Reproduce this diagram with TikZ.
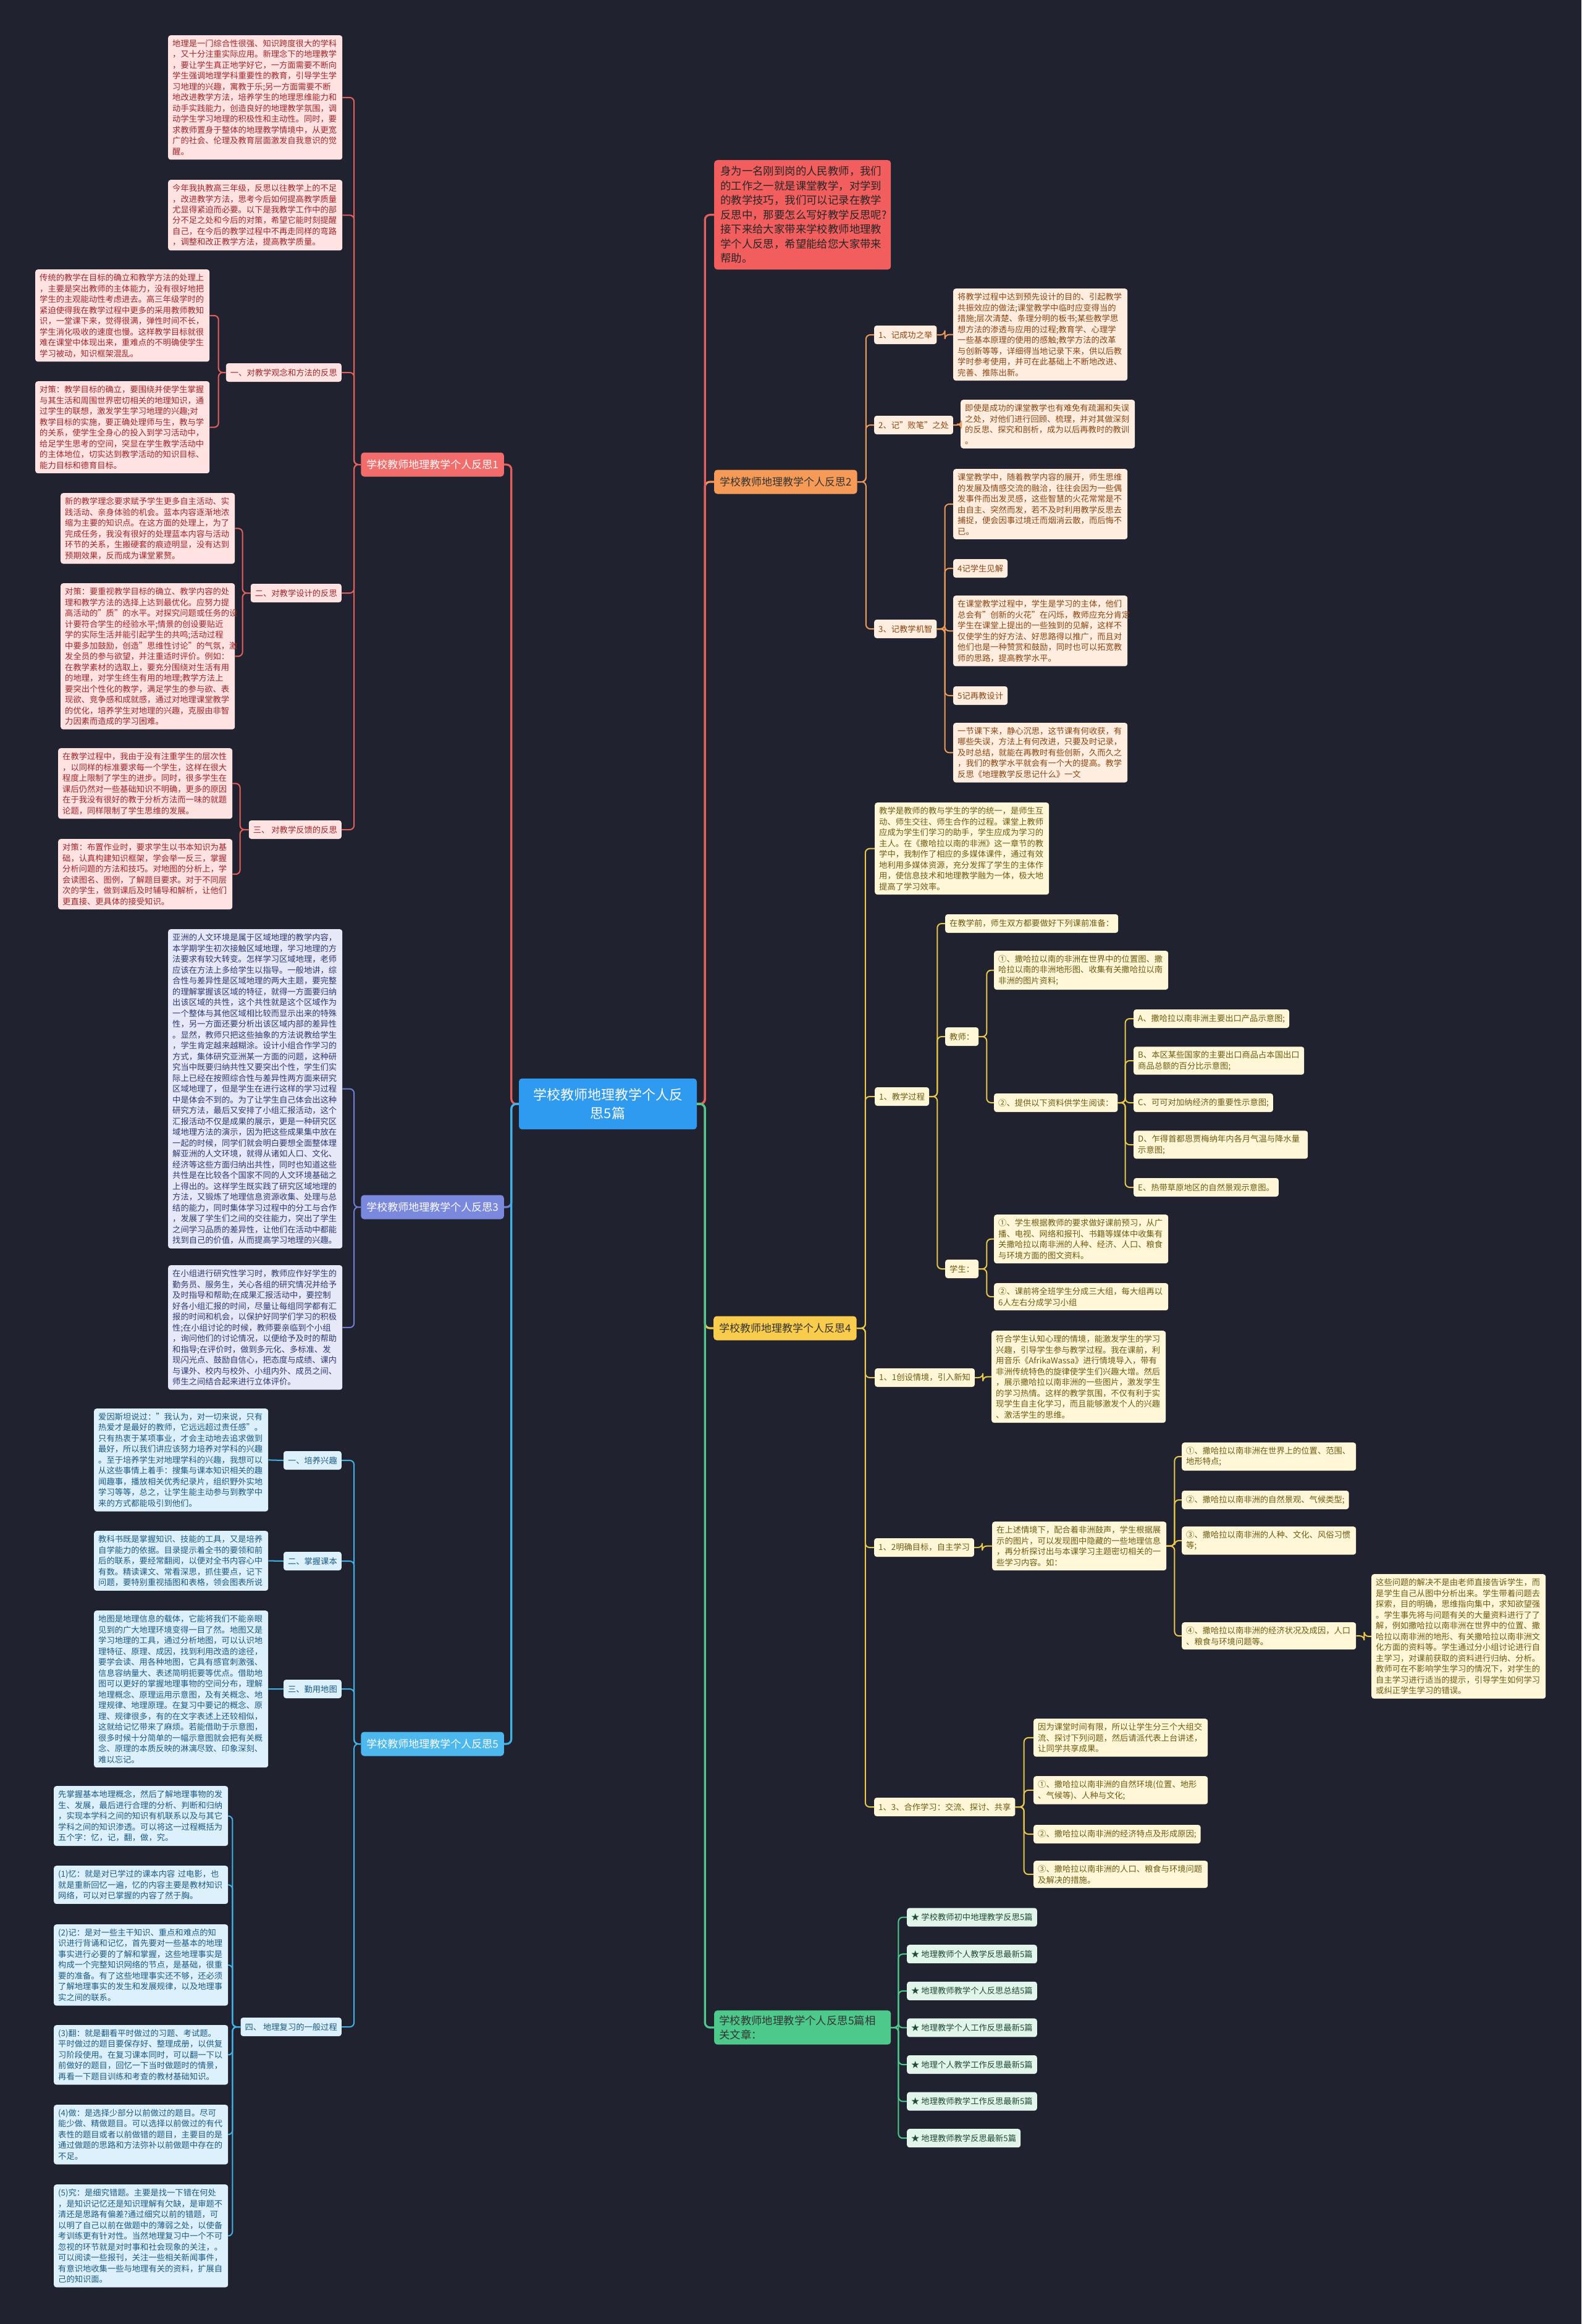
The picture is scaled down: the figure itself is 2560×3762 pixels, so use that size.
\documentclass[tikz,border=0pt]{standalone}
\usepackage{fontspec}
\setmainfont{Noto Sans CJK SC}
\definecolor{bgcol}{HTML}{20232F}
\definecolor{rootfill}{HTML}{2E9AF0}
\definecolor{redln}{HTML}{E5605D}
\definecolor{redfill}{HTML}{F36C6C}
\definecolor{introfill}{HTML}{F25E5E}
\definecolor{redlt}{HTML}{FFE2E2}
\definecolor{reddk}{HTML}{A3262A}
\definecolor{orln}{HTML}{F09A5A}
\definecolor{orfill}{HTML}{F59A57}
\definecolor{orlt}{HTML}{FFEEDF}
\definecolor{ordk}{HTML}{8B4513}
\definecolor{yeln}{HTML}{E9C84B}
\definecolor{yefill}{HTML}{F9CC4C}
\definecolor{yelt}{HTML}{FFF7D7}
\definecolor{yedk}{HTML}{6E5B12}
\definecolor{puln}{HTML}{6F7FD6}
\definecolor{pufill}{HTML}{7A89DE}
\definecolor{pult}{HTML}{E7E9F8}
\definecolor{pudk}{HTML}{2E3A73}
\definecolor{blln}{HTML}{3FB2E8}
\definecolor{blfill}{HTML}{4DB8EE}
\definecolor{bllt}{HTML}{DCF1FB}
\definecolor{bldk}{HTML}{1D5A86}
\definecolor{grln}{HTML}{4DC98B}
\definecolor{grlt}{HTML}{E2F5EB}
\definecolor{grdk}{HTML}{1F4A33}
\tikzset{
  box/.style = {rounded corners = 4pt, inner xsep = 7pt, inner ysep = 7pt, align = left,
    font = \fontsize{13.3}{17.5}\selectfont},
  wide/.style = {text width = 268pt},
  tag/.style = {box, inner ysep = 4pt, minimum height = 30pt},
  redbox/.style = {box, fill = redlt, text = reddk},
  orbox/.style = {box, fill = orlt, text = ordk},
  yebox/.style = {box, fill = yelt, text = yedk},
  pubox/.style = {box, fill = pult, text = pudk},
  blbox/.style = {box, fill = bllt, text = bldk},
  grbox/.style = {box, fill = grlt, text = grdk},
  branch/.style = {rounded corners = 5pt, inner xsep = 9pt, minimum height = 39pt,
    font = \fontsize{17}{21}\selectfont},
  link/.style = {rounded corners = 7pt, line width = 2pt},
  trunk/.style = {rounded corners = 8pt, line width = 3.2pt}
}
\begin{document}
\begin{tikzpicture}[x=1pt, y=-1pt]
\fill[bgcol] (0,0) rectangle (2560,3762);
\useasboundingbox (0,0) rectangle (2560,3762);

% root
\node[fill=rootfill, text=white, rounded corners=5pt, inner xsep=14pt, inner ysep=16pt,
  text width=260pt, align=center, font=\fontsize{22}{30}\selectfont] (root) at (984,1787)
  {学校教师地理教学个人反\\思5篇};

% ---------------- left: 反思1 ----------------
\node[branch, fill=redfill, text=white, anchor=east] (fs1) at (816,752) {学校教师地理教学个人反思1};
\node[redbox, wide, anchor=north west] (r1a) at (272,57) {地理是一门综合性很强、知识跨度很大的学科\\，又十分注重实际应用。新理念下的地理教学\\，要让学生真正地学好它，一方面需要不断向\\学生强调地理学科重要性的教育，引导学生学\\习地理的兴趣，寓教于乐;另一方面需要不断\\地改进教学方法，培养学生的地理思维能力和\\动手实践能力，创造良好的地理教学氛围，调\\动学生学习地理的积极性和主动性。同时，要\\求教师置身于整体的地理教学情境中，从更宽\\广的社会、伦理及教育层面激发自我意识的觉\\醒。};
\node[redbox, wide, anchor=north west] (r1b) at (272,291) {今年我执教高三年级，反思以往教学上的不足\\，改进教学方法，思考今后如何提高教学质量\\尤显得紧迫而必要。以下是我教学工作中的部\\分不足之处和今后的对策，希望它能时刻提醒\\自己，在今后的教学过程中不再走同样的弯路\\，调整和改正教学方法，提高教学质量。};
\node[redbox, tag, anchor=east] (s11) at (553,603) {一、对教学观念和方法的反思};
\node[redbox, wide, anchor=north west] (r1c) at (57,436) {传统的教学在目标的确立和教学方法的处理上\\，主要是突出教师的主体能力，没有很好地把\\学生的主观能动性考虑进去。高三年级学时的\\紧迫使得我在教学过程中更多的采用教师教知\\识，一堂课下来，觉得很满，弹性时间不长，\\学生消化吸收的速度也慢。这样教学目标就很\\难在课堂中体现出来，重难点的不明确使学生\\学习被动，知识框架混乱。};
\node[redbox, wide, anchor=north west] (r1d) at (57,617) {对策：教学目标的确立，要围绕并使学生掌握\\与其生活和周围世界密切相关的地理知识，通\\过学生的联想，激发学生学习地理的兴趣;对\\教学目标的实施，要正确处理师与生，教与学\\的关系，使学生全身心的投入到学习活动中，\\给足学生思考的空间，突显在学生教学活动中\\的主体地位，切实达到教学活动的知识目标、\\能力目标和德育目标。};
\node[redbox, tag, anchor=east] (s12) at (553,960) {二、对教学设计的反思};
\node[redbox, wide, anchor=north west] (r2a) at (98,798) {新的教学理念要求赋予学生更多自主活动、实\\践活动、亲身体验的机会。蓝本内容逐渐地浓\\缩为主要的知识点。在这方面的处理上，为了\\完成任务，我没有很好的处理蓝本内容与活动\\环节的关系，生搬硬套的痕迹明显，没有达到\\预期效果，反而成为课堂累赘。};
\node[redbox, wide, anchor=north west] (r2b) at (98,944) {对策：要重视教学目标的确立、教学内容的处\\理和教学方法的选择上达到最优化。应努力提\\高活动的"质"的水平。对探究问题或任务的设\\计要符合学生的经验水平;情景的创设要贴近\\学的实际生活并能引起学生的共鸣;活动过程\\中要多加鼓励，创造"思维性讨论"的气氛，激\\发全员的参与欲望，并注重适时评价。例如：\\在教学素材的选取上，要充分围绕对生活有用\\的地理，对学生终生有用的地理;教学方法上\\要突出个性化的教学，满足学生的参与欲、表\\现欲、竞争感和成就感，通过对地理课堂教学\\的优化，培养学生对地理的兴趣，克服由非智\\力因素而造成的学习困难。};
\node[redbox, tag, anchor=east] (s13) at (553,1343) {三、 对教学反馈的反思};
\node[redbox, wide, anchor=north west] (r3a) at (94,1211) {在教学过程中，我由于没有注重学生的层次性\\，以同样的标准要求每一个学生，这样在很大\\程度上限制了学生的进步。同时，很多学生在\\课后仍然对一些基础知识不明确，更多的原因\\在于我没有很好的教于分析方法而一味的就题\\论题，同样限制了学生思维的发展。};
\node[redbox, wide, anchor=north west] (r3b) at (94,1358) {对策：布置作业时，要求学生以书本知识为基\\础，认真构建知识框架，学会举一反三，掌握\\分析问题的方法和技巧。对地图的分析上，学\\会读图名、图例，了解题目要求。对于不同层\\次的学生，做到课后及时辅导和解析，让他们\\更直接、更具体的接受知识。};

\foreach \n in {r1a, r1b, s11, s12, s13}
  \draw[link, redln] (fs1.west) -- ++(-11,0) |- (\n.east);
\foreach \n in {r1c, r1d}
  \draw[link, redln] (s11.west) -- ++(-12,0) |- (\n.east);
\foreach \n in {r2a, r2b}
  \draw[link, redln] (s12.west) -- ++(-13,0) |- (\n.east);
\foreach \n in {r3a, r3b}
  \draw[link, redln] (s13.west) -- ++(-14,0) |- (\n.east);

% ---------------- left: 反思3 ----------------
\node[branch, fill=pufill, text=white, anchor=east] (fs3) at (816,1954) {学校教师地理教学个人反思3};
\node[pubox, wide, anchor=north west] (p1) at (272,1504) {亚洲的人文环境是属于区域地理的教学内容，\\本学期学生初次接触区域地理，学习地理的方\\法要求有较大转变。怎样学习区域地理，老师\\应该在方法上多给学生以指导。一般地讲，综\\合性与差异性是区域地理的两大主题，要完整\\的理解掌握该区域的特征，就得一方面要归纳\\出该区域的共性，这个共性就是这个区域作为\\一个整体与其他区域相比较而显示出来的特殊\\性，另一方面还要分析出该区域内部的差异性\\。显然，教师只把这些抽象的方法说教给学生\\，学生肯定越来越糊涂。设计小组合作学习的\\方式，集体研究亚洲某一方面的问题，这种研\\究当中既要归纳共性又要突出个性，学生们实\\际上已经在按照综合性与差异性两方面来研究\\区域地理了，但是学生在进行这样的学习过程\\中是体会不到的。为了让学生自己体会出这种\\研究方法，最后又安排了小组汇报活动，这个\\汇报活动不仅是成果的展示，更是一种研究区\\域地理方法的演示，因为把这些成果集中放在\\一起的时候，同学们就会明白要想全面整体理\\解亚洲的人文环境，就得从诸如人口、文化、\\经济等这些方面归纳出共性，同时也知道这些\\共性是在比较各个国家不同的人文环境基础之\\上得出的。这样学生既实践了研究区域地理的\\方法，又锻炼了地理信息资源收集、处理与总\\结的能力，同时集体学习过程中的分工与合作\\，发展了学生们之间的交往能力，突出了学生\\之间学习品质的差异性，让他们在活动中都能\\找到自己的价值，从而提高学习地理的兴趣。};
\node[pubox, wide, anchor=north west] (p2) at (272,2048) {在小组进行研究性学习时，教师应作好学生的\\勤务员、服务生，关心各组的研究情况并给予\\及时指导和帮助;在成果汇报活动中，要控制\\好各小组汇报的时间，尽量让每组同学都有汇\\报的时间和机会，以保护好同学们学习的积极\\性;在小组讨论的时候，教师要亲临到个小组\\，询问他们的讨论情况，以便给予及时的帮助\\和指导;在评价时，做到多元化、多标准、发\\现闪光点、鼓励自信心，把态度与成绩、课内\\与课外、校内与校外、小组内外、成员之间、\\师生之间结合起来进行立体评价。};
\foreach \n in {p1, p2}
  \draw[link, puln] (fs3.west) -- ++(-11,0) |- (\n.east);

% ---------------- left: 反思5 ----------------
\node[branch, fill=blfill, text=white, anchor=east] (fs5) at (816,2823) {学校教师地理教学个人反思5};
\node[blbox, tag, anchor=east] (s51) at (553,2364) {一、培养兴趣};
\node[blbox, wide, anchor=north west] (b1) at (152,2280) {爱因斯坦说过："我认为，对一切来说，只有\\热爱才是最好的教师，它远远超过责任感"。\\只有热衷于某项事业，才会主动地去追求做到\\最好，所以我们讲应该努力培养对学科的兴趣\\。至于培养学生对地理学科的兴趣，我想可以\\从这些事情上着手：搜集与课本知识相关的趣\\闻趣事，播放相关优秀纪录片，组织野外实地\\学习等等，总之，让学生能主动参与到教学中\\来的方式都能吸引到他们。};
\node[blbox, tag, anchor=east] (s52) at (553,2527) {二、掌握课本};
\node[blbox, wide, anchor=north west] (b2) at (152,2478) {教科书既是掌握知识、技能的工具，又是培养\\自学能力的依据。目录提示着全书的要领和前\\后的联系，要经常翻阅，以便对全书内容心中\\有数。精读课文、常看深思，抓住要点，记下\\问题，要特别重视插图和表格，领会图表所说};
\node[blbox, tag, anchor=east] (s53) at (553,2734) {三、勤用地图};
\node[blbox, wide, anchor=north west] (b3) at (152,2607) {地图是地理信息的载体，它能将我们不能亲眼\\见到的广大地理环境变得一目了然。地图又是\\学习地理的工具，通过分析地图，可以认识地\\理特征、原理、成因，找到利用改造的途径，\\要学会读、用各种地图，它具有感官刺激强、\\信息容纳量大、表述简明扼要等优点。借助地\\图可以更好的掌握地理事物的空间分布，理解\\地理概念、原理运用示意图，及有关概念、地\\理规律、地理原理。在复习中要记的概念、原\\理、规律很多，有的在文字表述上还较相似，\\这就给记忆带来了麻烦。若能借助于示意图，\\很多时候十分简单的一幅示意图就会把有关概\\念、原理的本质反映的淋漓尽致、印象深刻、\\难以忘记。};
\node[blbox, tag, anchor=east] (s54) at (553,3281) {四、 地理复习的一般过程};
\node[blbox, wide, anchor=north west] (q1) at (87,2891) {先掌握基本地理概念，然后了解地理事物的发\\生、发展，最后进行合理的分析、判断和归纳\\，实现本学科之间的知识有机联系以及与其它\\学科之间的知识渗透。可以将这一过程概括为\\五个字：忆，记，翻，做，究。};
\node[blbox, wide, anchor=north west] (q2) at (87,3020) {(1)忆：就是对已学过的课本内容 过电影，也\\就是重新回忆一遍，忆的内容主要是教材知识\\网络，可以对已掌握的内容了然于胸。};
\node[blbox, wide, anchor=north west] (q3) at (87,3115) {(2)记：是对一些主干知识、重点和难点的知\\识进行背诵和记忆，首先要对一些基本的地理\\事实进行必要的了解和掌握，这些地理事实是\\构成一个完整知识网络的节点，是基础，很重\\要的准备。有了这些地理事实还不够，还必须\\了解地理事实的发生和发展规律，以及地理事\\实之间的联系。};
\node[blbox, wide, anchor=north west] (q4) at (87,3278) {(3)翻：就是翻看平时做过的习题、考试题。\\平时做过的题目要保存好、整理成册，以供复\\习阶段使用。在复习课本同时，可以翻一下以\\前做好的题目，回忆一下当时做题时的情景，\\再看一下题目训练和考查的教材基础知识。};
\node[blbox, wide, anchor=north west] (q5) at (87,3407) {(4)做：是选择少部分以前做过的题目。尽可\\能少做、精做题目。可以选择以前做过的有代\\表性的题目或者以前做错的题目，主要目的是\\通过做题的思路和方法弥补以前做题中存在的\\不足。};
\node[blbox, wide, anchor=north west] (q6) at (87,3536) {(5)究：是细究错题。主要是找一下错在何处\\，是知识记忆还是知识理解有欠缺，是审题不\\清还是思路有偏差?通过细究以前的错题，可\\以明了自己以前在做题中的薄弱之处，以使备\\考训练更有针对性。当然地理复习中一个不可\\忽视的环节就是对时事和社会现象的关注，。\\可以阅读一些报刊，关注一些相关新闻事件，\\有意识地收集一些与地理有关的资料，扩展自\\己的知识面。};
\foreach \n in {s51, s52, s53, s54}
  \draw[link, blln] (fs5.west) -- ++(-11,0) |- (\n.east);
\draw[link, blln] (s51.west) -- (b1.east);
\draw[link, blln] (s52.west) -- (b2.east);
\draw[link, blln] (s53.west) -- (b3.east);
\foreach \n in {q1, q2, q3, q4, q5, q6}
  \draw[link, blln] (s54.west) -- ++(-13,0) |- (\n.east);

% root to left branches
\draw[trunk, redln] (root.west) -- ++(-12,0) |- (fs1.east);
\draw[trunk, puln] (root.west) -- ++(-12,0) |- (fs3.east);
\draw[trunk, blln] (root.west) -- ++(-12,0) |- (fs5.east);

% ---------------- right: intro + 反思2 ----------------
\node[fill=introfill, text=black!85, rounded corners=5pt, inner xsep=10pt, inner ysep=10pt,
  text width=266pt, align=left, font=\fontsize{17.4}{23.5}\selectfont, anchor=north west]
  (intro) at (1156,259) {身为一名刚到岗的人民教师，我们\\的工作之一就是课堂教学，对学到\\的教学技巧，我们可以记录在教学\\反思中，那要怎么写好教学反思呢?\\接下来给大家带来学校教师地理教\\学个人反思，希望能给您大家带来\\帮助。};
\node[branch, fill=orfill, text=black!80, anchor=west] (fs2) at (1156,780) {学校教师地理教学个人反思2};
\node[orbox, tag, anchor=west] (s21) at (1415,542) {1、记成功之举};
\node[orbox, wide, anchor=north west] (o1) at (1543,467) {将教学过程中达到预先设计的目的、引起教学\\共振效应的做法;课堂教学中临时应变得当的\\措施;层次清楚、条理分明的板书;某些教学思\\想方法的渗透与应用的过程;教育学、心理学\\一些基本原理的使用的感触;教学方法的改革\\与创新等等，详细得当地记录下来，供以后教\\学时参考使用，并可在此基础上不断地改进、\\完善、推陈出新。};
\node[orbox, tag, anchor=west] (s22) at (1415,688) {2、记"败笔"之处};
\node[orbox, wide, anchor=north west] (o2) at (1555,647) {即使是成功的课堂教学也有难免有疏漏和失误\\之处，对他们进行回顾、梳理，并对其做深刻\\的反思、探究和剖析，成为以后再教时的教训\\。};
\node[orbox, tag, anchor=west] (s23) at (1415,1018) {3、记教学机智};
\node[orbox, wide, anchor=north west] (o3) at (1543,759) {课堂教学中，随着教学内容的展开，师生思维\\的发展及情感交流的融洽，往往会因为一些偶\\发事件而出发灵感，这些智慧的火花常常是不\\由自主、突然而发，若不及时利用教学反思去\\捕捉，便会因事过境迁而烟消云散，而后悔不\\已。};
\node[orbox, tag, anchor=west] (o4) at (1543,920) {4记学生见解};
\node[orbox, wide, anchor=north west] (o5) at (1543,964) {在课堂教学过程中，学生是学习的主体，他们\\总会有"创新的火花"在闪烁，教师应充分肯定\\学生在课堂上提出的一些独到的见解，这样不\\仅使学生的好方法、好思路得以推广，而且对\\他们也是一种赞赏和鼓励，同时也可以拓宽教\\师的思路，提高教学水平。};
\node[orbox, tag, anchor=west] (o6) at (1543,1126) {5记再教设计};
\node[orbox, wide, anchor=north west] (o7) at (1543,1170) {一节课下来，静心沉思，这节课有何收获，有\\哪些失误，方法上有何改进，只要及时记录，\\及时总结，就能在再教时有些创新，久而久之\\，我们的教学水平就会有一个大的提高。教学\\反思《地理教学反思记什么》一文};
\foreach \n in {s21, s22, s23}
  \draw[link, orln] (fs2.east) -- ++(14,0) |- (\n.west);
\draw[link, orln] (s21.east) -- ++(13,0) |- (o1.west);
\draw[link, orln] (s22.east) -- ++(13,0) |- (o2.west);
\foreach \n in {o3, o4, o5, o6, o7}
  \draw[link, orln] (s23.east) -- ++(13,0) |- (\n.west);

% ---------------- right: 反思4 ----------------
\node[branch, fill=yefill, text=black!80, anchor=west] (fs4) at (1155,2150) {学校教师地理教学个人反思4};
\node[yebox, wide, anchor=north west] (y1) at (1416,1299) {教学是教师的教与学生的学的统一，是师生互\\动、师生交往、师生合作的过程。课堂上教师\\应成为学生们学习的助手，学生应成为学习的\\主人。在《撒哈拉以南的非洲》这一章节的教\\学中，我制作了相应的多媒体课件，通过有效\\地利用多媒体资源，充分发挥了学生的主体作\\用，使信息技术和地理教学融为一体，极大地\\提高了学习效率。};
\node[yebox, tag, anchor=west] (s41) at (1416,1775) {1、教学过程};
\node[yebox, tag, anchor=west] (k1) at (1530,1495) {在教学前，师生双方都要做好下列课前准备：};
\node[yebox, tag, anchor=west] (k2) at (1530,1678) {教师：};
\node[yebox, wide, anchor=north west] (t1) at (1609,1539) {①、撒哈拉以南的非洲在世界中的位置图、撒\\哈拉以南的非洲地形图、收集有关撒哈拉以南\\非洲的图片资料;};
\node[yebox, tag, anchor=west] (t2) at (1609,1785) {②、提供以下资料供学生阅读：};
\node[yebox, tag, anchor=west] (ta) at (1835,1649) {A、撒哈拉以南非洲主要出口产品示意图;};
\node[yebox, anchor=west, text width=262pt] (tb) at (1835,1717) {B、本区某些国家的主要出口商品占本国出口\\商品总额的百分比示意图;};
\node[yebox, tag, anchor=west] (tc) at (1835,1785) {C、可可对加纳经济的重要性示意图;};
\node[yebox, anchor=west, text width=268pt] (td) at (1835,1853) {D、乍得首都恩贾梅纳年内各月气温与降水量\\示意图;};
\node[yebox, tag, anchor=west] (te) at (1835,1922) {E、热带草原地区的自然景观示意图。};
\node[yebox, tag, anchor=west] (k3) at (1530,2054) {学生：};
\node[yebox, wide, anchor=north west] (u1) at (1609,1966) {①、学生根据教师的要求做好课前预习，从广\\播、电视、网络和报刊、书籍等媒体中收集有\\关撒哈拉以南非洲的人种、经济、人口、粮食\\与环境方面的图文资料。};
\node[yebox, wide, anchor=north west] (u2) at (1609,2077) {②、课前将全班学生分成三大组，每大组再以\\6人左右分成学习小组};
\node[yebox, tag, anchor=west] (s42) at (1416,2230) {1、1创设情境，引入新知};
\node[yebox, wide, anchor=north west] (y2) at (1605,2154) {符合学生认知心理的情境，能激发学生的学习\\兴趣，引导学生参与教学过程。我在课前，利\\用音乐《AfrikaWassa》进行情境导入，带有\\非洲传统特色的旋律使学生们兴趣大增。然后\\，展示撒哈拉以南非洲的一些图片，激发学生\\的学习热情。这样的教学氛围，不仅有利于实\\现学生自主化学习，而且能够激发个人的兴趣\\、激活学生的思维。};
\node[yebox, tag, anchor=west] (s43) at (1415,2505) {1、2明确目标，自主学习};
\node[yebox, wide, anchor=north west] (y3) at (1606,2463) {在上述情境下，配合着非洲鼓声，学生根据展\\示的图片，可以发现图中隐藏的一些地理信息\\，再分析探讨出与本课学习主题密切相关的一\\些学习内容。如：};
\node[yebox, wide, anchor=north west] (v1) at (1913,2335) {①、撒哈拉以南非洲在世界上的位置、范围、\\地形特点;};
\node[yebox, tag, anchor=west] (v2) at (1913,2428) {②、撒哈拉以南非洲的自然景观、气候类型;};
\node[yebox, wide, anchor=north west] (v3) at (1913,2471) {③、撒哈拉以南非洲的人种、文化、风俗习惯\\等;};
\node[yebox, wide, anchor=north west] (v4) at (1913,2626) {④、撒哈拉以南非洲的经济状况及成因，人口\\、粮食与环境问题等。};
\node[yebox, wide, anchor=north west] (w1) at (2220,2548) {这些问题的解决不是由老师直接告诉学生，而\\是学生自己从图中分析出来。学生带着问题去\\探索，目的明确，思维指向集中，求知欲望强\\。学生事先将与问题有关的大量资料进行了了\\解，例如撒哈拉以南非洲在世界中的位置、撒\\哈拉以南非洲的地形、有关撒哈拉以南非洲文\\化方面的资料等。学生通过分小组讨论进行自\\主学习，对课前获取的资料进行归纳、分析。\\教师可在不影响学生学习的情况下，对学生的\\自主学习进行适当的提示，引导学生如何学习\\或纠正学生学习的错误。};
\node[yebox, tag, anchor=west] (s44) at (1415,2925) {1、3、合作学习：交流、探讨、共享};
\node[yebox, wide, anchor=north west] (x1) at (1673,2782) {因为课堂时间有限，所以让学生分三个大组交\\流、探讨下列问题，然后请派代表上台讲述，\\让同学共享成果。};
\node[yebox, wide, anchor=north west] (x2) at (1673,2875) {①、撒哈拉以南非洲的自然环境(位置、地形\\、气候等)、人种与文化;};
\node[yebox, tag, anchor=west] (x3) at (1673,2969) {②、撒哈拉以南非洲的经济特点及形成原因;};
\node[yebox, wide, anchor=north west] (x4) at (1673,3012) {③、撒哈拉以南非洲的人口、粮食与环境问题\\及解决的措施。};

\foreach \n in {y1, s41, s42, s43, s44}
  \draw[link, yeln] (fs4.east) -- ++(14,0) |- (\n.west);
\foreach \n in {k1, k2, k3}
  \draw[link, yeln] (s41.east) -- ++(13,0) |- (\n.west);
\foreach \n in {t1, t2}
  \draw[link, yeln] (k2.east) -- ++(13,0) |- (\n.west);
\foreach \n in {ta, tb, tc, td, te}
  \draw[link, yeln] (t2.east) -- ++(12,0) |- (\n.west);
\foreach \n in {u1, u2}
  \draw[link, yeln] (k3.east) -- ++(13,0) |- (\n.west);
\draw[link, yeln] (s42.east) -- ++(13,0) |- (y2.west);
\draw[link, yeln] (s43.east) -- ++(13,0) |- (y3.west);
\foreach \n in {v1, v2, v3, v4}
  \draw[link, yeln] (y3.east) -- ++(13,0) |- (\n.west);
\draw[link, yeln] (v4.east) -- ++(13,0) |- (w1.west);
\foreach \n in {x1, x2, x3, x4}
  \draw[link, yeln] (s44.east) -- ++(14,0) |- (\n.west);

% ---------------- right: related ----------------
\node[fill=grln, text=black!80, rounded corners=5pt, inner xsep=8pt, inner ysep=8pt,
  text width=270pt, align=left, font=\fontsize{17.4}{23}\selectfont, anchor=west]
  (rel) at (1156,3282) {学校教师地理教学个人反思5篇相\\关文章：};
\foreach \t [count=\i] in {学校教师初中地理教学反思5篇, 地理教师个人教学反思最新5篇,
    地理教师教学个人反思总结5篇, 地理教学个人工作反思最新5篇, 地理个人教学工作反思最新5篇,
    地理教师教学工作反思最新5篇, 地理教师教学反思最新5篇}
  \node[grbox, tag, anchor=west] (g\i) at (1468, 3044 + 59.6*\i) {★ \t};
\foreach \i in {1,...,7}
  \draw[link, grln] (rel.east) -- ++(12,0) |- (g\i.west);

% root to right branches
\draw[trunk, orln] (root.east) -- ++(13,0) |- (fs2.west);
\draw[trunk, redln] (root.east) -- ++(13,0) |- (intro.west);
\draw[trunk, yeln] (root.east) -- ++(13,0) |- (fs4.west);
\draw[trunk, grln] (root.east) -- ++(13,0) |- (rel.west);
\end{tikzpicture}
\end{document}
